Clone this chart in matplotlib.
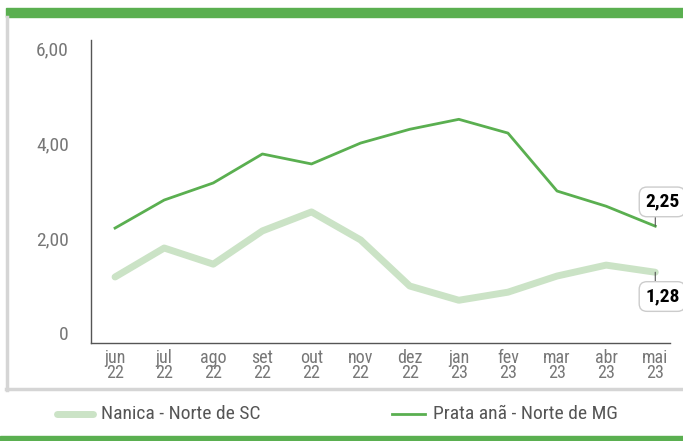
import numpy as np
import matplotlib
matplotlib.use("Agg")
import matplotlib.pyplot as plt
from matplotlib.lines import Line2D
from matplotlib.patches import Rectangle

plt.rcParams["font.family"] = ["Roboto Condensed", "Liberation Sans Narrow", "Roboto", "DejaVu Sans"]

months = ["jun\n22", "jul\n22", "ago\n22", "set\n22", "out\n22", "nov\n22",
          "dez\n22", "jan\n23", "fev\n23", "mar\n23", "abr\n23", "mai\n23"]
nanica = [1.18, 1.79, 1.45, 2.15, 2.55, 1.96, 0.99, 0.69, 0.86, 1.20, 1.43, 1.28]
prata = [2.21, 2.80, 3.16, 3.77, 3.56, 4.00, 4.29, 4.50, 4.21, 2.99, 2.67, 2.25]
yticks = [0, 2, 4, 6]
ytick_labels = ["0", "2,00", "4,00", "6,00"]

GREEN = "#5aaf50"
LIGHT = "#cbe3c6"
GRAY_TXT = "#777777"

W, H = 683, 441
fig = plt.figure(figsize=(W / 100, H / 100), dpi=100)

# frame decorations
fig.patches.append(Rectangle((6 / W, 1 - 17 / H), 1, 9 / H, transform=fig.transFigure,
                             color=GREEN, zorder=0))
fig.patches.append(Rectangle((0, 0), 1, 5 / H, transform=fig.transFigure,
                             color=GREEN, zorder=0))
fig.add_artist(Line2D([7 / W, 7 / W], [1 - 390 / H, 1 - 17 / H], color="#d5d5d5", lw=2.5))
fig.add_artist(Line2D([6 / W, 1], [1 - 389 / H, 1 - 389 / H], color="#d5d5d5", lw=2.5))

ax = fig.add_axes([91 / W, 1 - 343 / H, 579 / W, 303 / H])
x = np.arange(len(months))
ax.plot(x, nanica, color=LIGHT, lw=5, solid_capstyle="round", solid_joinstyle="round")
ax.plot(x, prata, color=GREEN, lw=2)

ax.set_xlim(-0.49, 11.3)
ax.set_ylim(-0.21, 6.17)
ax.set_yticks(yticks)
ax.set_yticklabels(ytick_labels)
ax.set_xticks(x)
ax.set_xticklabels(months, linespacing=0.8)
ax.tick_params(length=0, labelcolor=GRAY_TXT, labelsize=13)
ax.tick_params(axis="y", pad=16, labelsize=14)
ax.tick_params(axis="x", pad=4)
for s in ["top", "right"]:
    ax.spines[s].set_visible(False)
for s in ["left", "bottom"]:
    ax.spines[s].set_color("#555555")
    ax.spines[s].set_linewidth(1)

box = dict(boxstyle="round,pad=0.3,rounding_size=0.4", fc="white", ec="#cccccc", lw=1)
ax.annotate("2,25", (x[-1], prata[-1]), xytext=(5, 11), textcoords="offset points",
            ha="center", va="bottom", fontsize=14, fontweight="bold", bbox=box,
            arrowprops=dict(arrowstyle="-", color="#555555", lw=0.8, shrinkA=0, shrinkB=0,
                            relpos=(0.3, 0)))
ax.annotate("1,28", (x[-1], nanica[-1]), xytext=(5, -11), textcoords="offset points",
            ha="center", va="top", fontsize=14, fontweight="bold", bbox=box,
            arrowprops=dict(arrowstyle="-", color="#555555", lw=0.8, shrinkA=0, shrinkB=0,
                            relpos=(0.3, 1)))

# legend
ly = 1 - 414 / H
fig.add_artist(Line2D([57 / W, 93 / W], [ly, ly], color=LIGHT, lw=5, solid_capstyle="round"))
fig.text(101 / W, ly, "Nanica - Norte de SC", color="#555555", fontsize=14, va="center")
fig.add_artist(Line2D([392 / W, 425 / W], [ly, ly], color=GREEN, lw=2))
fig.text(433 / W, ly, "Prata anã - Norte de MG", color="#555555", fontsize=14, va="center")

fig.savefig("out.png", dpi=100)
